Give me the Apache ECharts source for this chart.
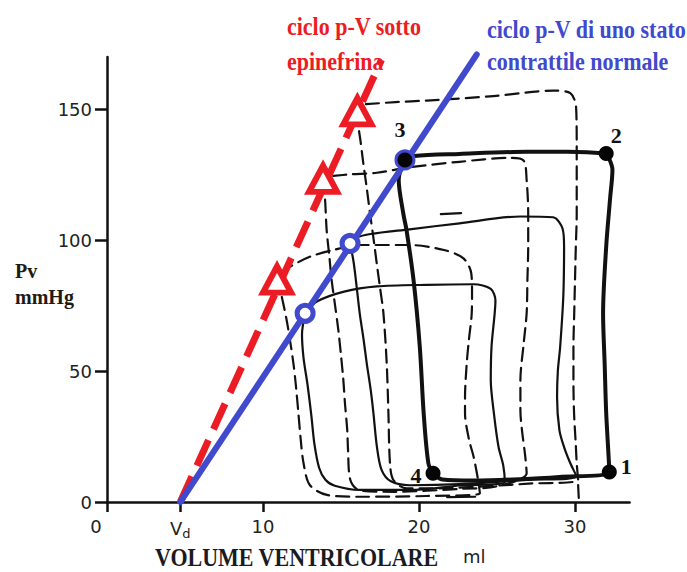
<!DOCTYPE html>
<html><head><meta charset="utf-8">
<script src="https://cdn.jsdelivr.net/npm/echarts@6.0.0/dist/echarts.min.js"></script>
<style>html,body{margin:0;padding:0;background:#fff}#c{width:687px;height:572px}</style>
</head><body><div id="c"></div>
<script>
// ---- axis ticks ----
const xTickValues = [0, 4.7, 10, 20, 30];
const xTickLabels = ['0', 'Vd', '10', '20', '30'];
const yTickValues = [0, 50, 100, 150];
const yTickLabels = ['0', '50', '100', '150'];

// ---- ESPVR lines ----
const normalLine = [[4.7, 0], [23.7, 171]];
const epiLine = [[4.7, 0], [17.6, 169]];
const epiPoints = [[10.9, 85], [13.85, 123.5], [16.05, 149.3]];
const normalRings = [[12.7, 72.1], [15.58, 98.8], [19.1, 130.7]];
const numberedPoints = [[32.2, 11.5], [32.0, 133.2], [19.1, 130.7], [20.9, 11.0]];
const pointLabels = ['1', '2', '3', '4'];

// ---- p-V loops (solid = normal, dashed = epinephrine) ----
const loopThick = [[20.9,11.0],[21.5,8.6],[23.5,8.2],[26,8.6],[29,9.6],[32.2,11.5],
  [32.0,34],[31.9,53],[31.8,72],[32.0,97.6],[32.25,116],[32.4,127],[32.1,132.5],[32.0,133.2],
  [29.5,133.8],[26.9,133.8],[22.6,133.0],[19.7,132.2],[19.1,130.7],
  [18.7,123],[19.0,110],[19.2,103.9],[19.65,84.8],[20.05,59.4],[20.3,33.9],[20.6,14.8],[20.9,11.0]];
const loopSolidSmall = [[12.7,72.1],[12.5,64],[12.6,55],[12.85,45],[13.1,33],[13.3,22],[13.6,13],[14.0,8.5],[14.6,6.2],[16.2,4.6],[19.4,4.6],[22.6,6.3],[25.5,7.6],
  [25.4,14],[25.1,21],[24.8,34],[24.6,46.6],[24.65,59.4],[24.85,72],[24.9,77],[24.6,81.4],[23.5,83.2],[20.5,83.0],[17.3,82.4],[15.2,80.4],[13.45,76.6],[12.7,72.1]];
const loopSolidMid = [[15.58,98.8],[15.8,92],[15.95,85],[16.2,72.1],[16.45,62],[16.65,53],[16.9,43],[17.08,33.9],[17.3,21.2],[17.6,12.3],[18.2,7.9],[19.4,6.4],[22.6,6.8],[26.9,8.4],[30.1,9.7],
  [29.7,14.8],[29.3,21],[29.0,27.5],[28.85,40],[28.9,50],[29.05,59.4],[29.25,78.5],[29.3,97.6],[29.2,104.5],[28.6,108.8],[26.5,109.1],[22.6,106.5],[19.4,104.2],[16.9,102.4],[16.0,101],[15.58,98.8]];
const loopDashedSmall = [[11.2,87.5],[11.73,89.9],[13.0,93.7],[14.5,96.3],[16.2,98.2],[19.4,98.2],[21.6,96.3],[22.85,93.1],[23.35,87.4],[23.4,80],[23.38,72.1],[23.2,62],[23.06,53],[22.95,40],[22.95,33.9],[23.2,24],[23.5,17.3],[23.8,8],[23.9,3.3],
  [20.5,2.3],[16.2,2.0],[14.1,2.7],[13.0,6.5],
  [12.6,14.8],[12.4,25],[12.27,33.9],[12.1,45],[11.95,53],[11.7,63],[11.5,70],[11.2,78.5],[11.0,83]];
const loopDashedMid = [[14.5,124.6],[15.6,125.2],[17.3,125.8],[19.4,127.9],[22.6,130.0],[25.8,131.5],[26.7,130.5],[26.9,123],[27.0,110],[27.0,97.6],[26.95,85],[26.9,72.1],[26.7,60],[26.5,46.6],[26.5,35],[26.6,27.5],[26.8,18],[26.9,11],
  [25,6.0],[22.6,5.0],[18.4,3.9],[16.2,4.4],[15.6,8.4],
  [15.45,20],[15.4,27.5],[15.25,38],[15.15,46.6],[15.0,56],[14.83,65.7],[14.6,76],[14.4,84.8],[14.25,94],[14.08,103.9],[13.98,115.4],[13.9,119]];
const loopDashedLarge = [[16.6,152],[18.5,152.8],[20.5,153.4],[24.77,155.1],[28.6,157.2],[29.7,156.2],[30.07,151],[30.11,135.8],[30.11,120],[30.11,110.3],[30.05,97],[30.0,84.8],[29.95,72],[29.9,59.4],[29.9,46],[29.94,33.9],[30.05,22],[30.11,14.8],[30.2,8.4],
  [27,7],[24.8,6.2],[21,5.2],[19.2,5.2],[18.36,8.4],
  [18.14,14.8],[18.04,33.9],[17.93,53],[17.72,72.1],[17.5,82],[17.29,91.2],[17.1,100],[16.86,110.3],[16.65,120],[16.43,129.4],[16.25,138],[16.11,143.5]];
const loopDashedLargeTail = [[30.2, 6.5], [30.25, 0.5]];
const arrowTop = [[21.4, 110.0], [22.7, 110.4]];
const arrowBottom = [[21.8, 1.9], [23.6, 2.0]];

// ---- texts ----
const titleRed = ['ciclo p-V sotto', 'epinefrina'];
const titleBlue = ['ciclo p-V di uno stato', 'contrattile normale'];
const xName = 'VOLUME VENTRICOLARE';
const xUnit = 'ml';
const yName = ['Pv', 'mmHg'];

const SERIF = '"Liberation Serif","Times New Roman",serif';
const SANS = '"DejaVu Sans",sans-serif';
const RED = '#ec1c24';
const BLUE = '#4149cc';
const INK = '#111111';

const chart = echarts.init(document.getElementById('c'), null, {renderer: 'svg', width: 687, height: 572});

function loop(data, dashed, width) {
  return {type: 'line', data: data, symbol: 'none', smooth: 0.3, clip: false, silent: true, z: 2,
    lineStyle: {color: INK, width: width, type: dashed ? [13, 7] : 'solid', cap: 'round', join: 'round', opacity: 1}};
}
function txt(x, y, text, font, fill, sy) {
  return {type: 'text', x: x, y: y, scaleY: sy || 1, z: 20,
    style: {text: text, font: font, fill: fill, align: 'left', verticalAlign: 'middle',
      textAlign: 'left', textVerticalAlign: 'middle'}};
}
const labelOffsets = [[17, -5], [10, -18], [-5, -30], [-17, 2]];

const option = {
  animation: false,
  backgroundColor: '#fff',
  grid: {left: 107, top: 57.1, width: 522.6, height: 444.9},
  xAxis: {
    type: 'value', min: 0, max: 33.5,
    axisLine: {show: true, lineStyle: {color: INK, width: 2.5}},
    axisTick: {show: true, customValues: xTickValues, length: 10, lineStyle: {color: INK, width: 2.5}},
    axisLabel: {
      customValues: xTickValues, margin: 15, color: '#222', fontFamily: SANS, fontSize: 18,
      formatter: function (v) {
        const i = xTickValues.findIndex(t => Math.abs(t - v) < 1e-6);
        const s = i >= 0 ? xTickLabels[i] : '';
        if (s === 'Vd') return '{v|V}{d|d}';
        if (s === '0') return '{z|0}';
        return s;
      },
      rich: {
        v: {fontFamily: SANS, fontSize: 18, color: '#222'},
        d: {fontFamily: SANS, fontSize: 13, color: '#222', padding: [10, 0, 0, 0]},
        z: {fontFamily: SANS, fontSize: 18, color: '#222', padding: [0, 22, 0, 0]}
      }
    },
    splitLine: {show: false}
  },
  yAxis: {
    type: 'value', min: 0, max: 170,
    axisLine: {show: true, lineStyle: {color: INK, width: 2.5}},
    axisTick: {show: true, customValues: yTickValues, length: 12, lineStyle: {color: INK, width: 2.5}},
    axisLabel: {
      customValues: yTickValues, margin: 15, color: '#222', fontFamily: SANS, fontSize: 18,
      formatter: function (v) {
        const i = yTickValues.findIndex(t => Math.abs(t - v) < 1e-6);
        return i >= 0 ? yTickLabels[i] : '';
      }
    },
    splitLine: {show: false}
  },
  graphic: [
    txt(287, 26.6, titleRed[0], 'bold 22px ' + SERIF, RED, 1.1),
    txt(287, 61.3, titleRed[1], 'bold 22px ' + SERIF, RED, 1.1),
    txt(487, 30, titleBlue[0], 'bold 22px ' + SERIF, BLUE, 1.1),
    txt(487, 61.6, titleBlue[1], 'bold 22px ' + SERIF, BLUE, 1.1),
    txt(155, 557.5, xName, 'bold 22px ' + SERIF, '#1a1a22', 1.1),
    txt(463, 556, xUnit, '18px ' + SANS, '#222', 1),
    txt(15, 270.9, yName[0], 'bold 20px ' + SERIF, '#1f1a14', 1),
    txt(15, 296.9, yName[1], 'bold 20px ' + SERIF, '#1f1a14', 1)
  ],
  series: [
    loop(loopDashedLarge, true, 2.2),
    loop(loopDashedLargeTail, true, 2.2),
    loop(loopDashedMid, true, 2.2),
    loop(loopDashedSmall, true, 2.2),
    loop(loopSolidSmall, false, 2.2),
    loop(loopSolidMid, false, 2.2),
    loop(loopThick, false, 4),
    loop(arrowTop, false, 2.2),
    loop(arrowBottom, false, 2.2),
    {type: 'line', data: epiLine, symbol: 'none', clip: false, silent: true, z: 3,
      lineStyle: {color: RED, width: 7, type: [28, 12], cap: 'butt', opacity: 1}},
    {type: 'line', data: normalLine, symbol: 'none', clip: false, silent: true, z: 4,
      lineStyle: {color: BLUE, width: 6, cap: 'round', opacity: 1}},
    {type: 'scatter', data: epiPoints, symbol: 'triangle', symbolSize: [28, 26], z: 5, silent: true,
      itemStyle: {color: '#fff', borderColor: RED, borderWidth: 6, opacity: 1}},
    {type: 'scatter', data: normalRings, symbol: 'circle', symbolSize: 16, z: 6, silent: true,
      itemStyle: {color: '#fff', borderColor: BLUE, borderWidth: 5, opacity: 1}},
    {type: 'scatter', symbol: 'circle', symbolSize: 15, z: 7, silent: true,
      itemStyle: {color: '#050505', opacity: 1},
      data: numberedPoints.map((p, i) => ({value: p, label: {offset: labelOffsets[i]}})),
      label: {show: true, position: 'inside', formatter: p => pointLabels[p.dataIndex],
        fontFamily: SERIF, fontWeight: 'bold', fontSize: 22, color: INK, opacity: 1}}
  ]
};
chart.setOption(option);
</script>
</body></html>
